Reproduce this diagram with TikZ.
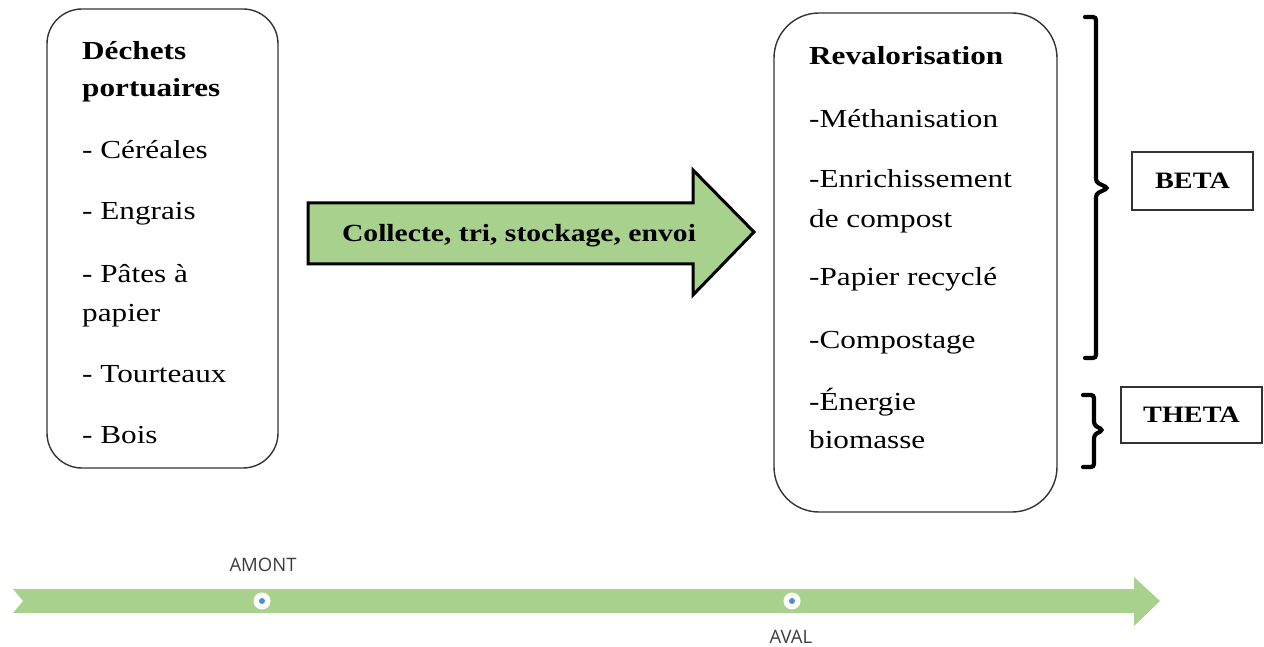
\documentclass[tikz,border=0pt]{standalone}
\usepackage{fontspec}
\setmainfont{Liberation Serif}[FakeStretch=1.2]
\newfontfamily\uisans{Open Sans}
\definecolor{leaf}{HTML}{A9D18E}
\definecolor{frame}{HTML}{333333}
\definecolor{dotblue}{HTML}{4A8FD8}
\definecolor{lbl}{HTML}{3C3C3C}
\tikzset{
  txt/.style={anchor=base west, inner sep=0pt, font=\fontsize{26}{30}\selectfont},
  bigbox/.style={draw=frame, line width=1.4pt, fill=white},
  tagbox/.style={draw=frame, line width=1.2pt, inner sep=0pt, font=\fontsize{23.5}{27}\selectfont\bfseries},
  brace/.style={line width=4.2pt, rounded corners=3pt, line cap=round},
  tl/.style={font=\uisans\fontsize{18.5}{21}\selectfont, text=lbl, inner sep=0pt},
  ring/.style={circle, fill=white, inner sep=0pt, minimum size=17pt},
  pip/.style={circle, fill=dotblue, inner sep=0pt, minimum size=6pt}
}
\begin{document}
\begin{tikzpicture}[x=1pt,y=-1pt]
\useasboundingbox (0,0) rectangle (1264,647);

% left box
\node[bigbox, rounded corners=35pt, minimum width=231pt, minimum height=459pt] (src) at (162.5,238.5) {};
\node[txt] (l1) at (82,60) {\bfseries Déchets};
\node[txt] (l2) at (82,97) {\bfseries portuaires};
\node[txt] (l3) at (82,159) {- Céréales};
\node[txt] (l4) at (82,220) {- Engrais};
\node[txt] (l5) at (82,282) {- Pâtes à};
\node[txt] (l6) at (82,321) {papier};
\node[txt] (l7) at (82,382) {- Tourteaux};
\node[txt] (l8) at (82,443) {- Bois};

% right box
\node[bigbox, rounded corners=45pt, minimum width=283pt, minimum height=499pt] (dst) at (915.5,262.5) {};
\node[txt] (r1) at (809,65) {\bfseries Revalorisation};
\node[txt] (r2) at (809,128) {-Méthanisation};
\node[txt] (r3) at (809,188) {-Enrichissement};
\node[txt] (r4) at (809,228) {de compost};
\node[txt] (r5) at (809,285) {-Papier recyclé};
\node[txt] (r6) at (809,348) {-Compostage};
\node[txt] (r7) at (809,410) {-Énergie};
\node[txt] (r8) at (809,448) {biomasse};

% big green arrow
\draw[line width=3pt, fill=leaf, line join=miter] (308,203) -- (693,203) -- (693,170) -- (754,232) -- (693,295) -- (693,264) -- (308,264) -- cycle;
\node[anchor=base, inner sep=0pt, font=\fontsize{24.7}{29}\selectfont\bfseries] (flow) at (519,242) {Collecte, tri, stockage, envoi};

% braces
\draw[brace] (1085,17) -- (1096,17) -- (1096,182) -- (1108,188) -- (1096,194) -- (1096,358) -- (1085,358);
\draw[brace] (1083,395) -- (1094,395) -- (1094,425) -- (1103,430) -- (1094,435) -- (1094,467) -- (1083,467);

% tags
\node[tagbox, minimum width=121pt, minimum height=58pt] (beta) at (1192.5,181) {BETA};
\node[tagbox, minimum width=141pt, minimum height=56pt] (theta) at (1191.5,415) {THETA};

% timeline
\fill[leaf] (13,589) -- (1134,589) -- (1134,577) -- (1160,601) -- (1134,626) -- (1134,613) -- (13,613) -- (23,601) -- cycle;
\node[ring] (am) at (262,601) {};
\node[pip] at (am) {};
\node[ring] (av) at (792,601) {};
\node[pip] at (av) {};
\node[tl] (amt) at (263,565) {AMONT};
\node[tl] (avt) at (791,637) {AVAL};
\end{tikzpicture}
\end{document}
